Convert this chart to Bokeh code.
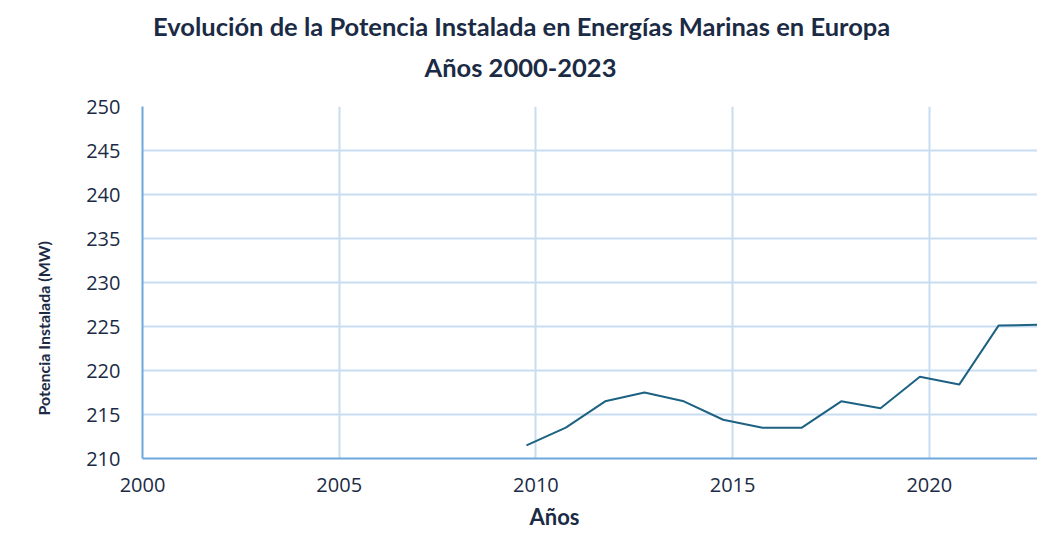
from bokeh.plotting import figure
from bokeh.models import Range1d, FixedTicker, Title, ColumnDataSource
from bokeh.transform import dodge
from bokeh.embed import file_html
from bokeh.resources import INLINE

# ---- data ----
years = [2010, 2011, 2012, 2013, 2014, 2015, 2016, 2017, 2018, 2019, 2020, 2021, 2022, 2023]
potencia_mw = [211.5, 213.5, 216.5, 217.5, 216.5, 214.4, 213.5, 213.5, 216.5, 215.7, 219.3, 218.4, 225.1, 225.2]
x_ticks = [2000, 2005, 2010, 2015, 2020]
y_ticks = [210, 215, 220, 225, 230, 235, 240, 245, 250]

title_line1 = "Evolución de la Potencia Instalada en Energías Marinas en Europa"
title_line2 = "Años 2000-2023"
x_label = "Años"
y_label = "Potencia Instalada (MW)"

TXT = "#1b2b45"
AXIS = "#6fa8dc"
GRID = "#c8ddf1"
LINE = "#1d6282"

src = ColumnDataSource(dict(year=years, val=potencia_mw))

p = figure(width=1037, height=535, output_backend="svg", toolbar_location=None,
           x_range=Range1d(2000, 2022.75), y_range=Range1d(210, 250),
           min_border_left=141, min_border_right=0, min_border_top=106,
           min_border_bottom=77)
p.outline_line_color = None
p.title.visible = False

p.line(x=dodge("year", -0.24), y="val", source=src, line_color=LINE, line_width=2)

# axes
for ax in (p.xaxis[0], p.yaxis[0]):
    ax.axis_line_color = AXIS
    ax.axis_line_width = 2
    ax.major_tick_line_color = None
    ax.minor_tick_line_color = None
    ax.major_tick_out = 0
    ax.major_tick_in = 0
    ax.major_label_text_font = "Open Sans"
    ax.major_label_text_font_size = "20px"
    ax.major_label_text_color = TXT

p.xaxis[0].ticker = FixedTicker(ticks=x_ticks)
p.yaxis[0].ticker = FixedTicker(ticks=y_ticks)
p.xaxis[0].major_label_standoff = 19
p.yaxis[0].major_label_standoff = 22

p.xgrid.ticker = FixedTicker(ticks=x_ticks)
p.ygrid.ticker = FixedTicker(ticks=y_ticks)
p.xgrid.grid_line_color = GRID
p.ygrid.grid_line_color = GRID
p.xgrid.grid_line_width = 2
p.ygrid.grid_line_width = 2

tstyle = dict(text_font="Lato", text_font_style="bold", text_color=TXT, align="left")

# title block: line 2 nearest the plot, line 1 on top
p.add_layout(Title(text=title_line2, text_font_size="25.5px", offset=282, standoff=50, **tstyle), "above")
p.add_layout(Title(text=title_line1, text_font_size="25.5px", offset=10.5, standoff=-32, **tstyle), "above")

# axis titles
p.add_layout(Title(text=x_label, text_font_size="22px", offset=387, standoff=12, **tstyle), "below")
p.add_layout(Title(text=y_label, text_font_size="16px", offset=43, standoff=62, **tstyle), "left")

open("out.html", "w").write(file_html(p, INLINE))
